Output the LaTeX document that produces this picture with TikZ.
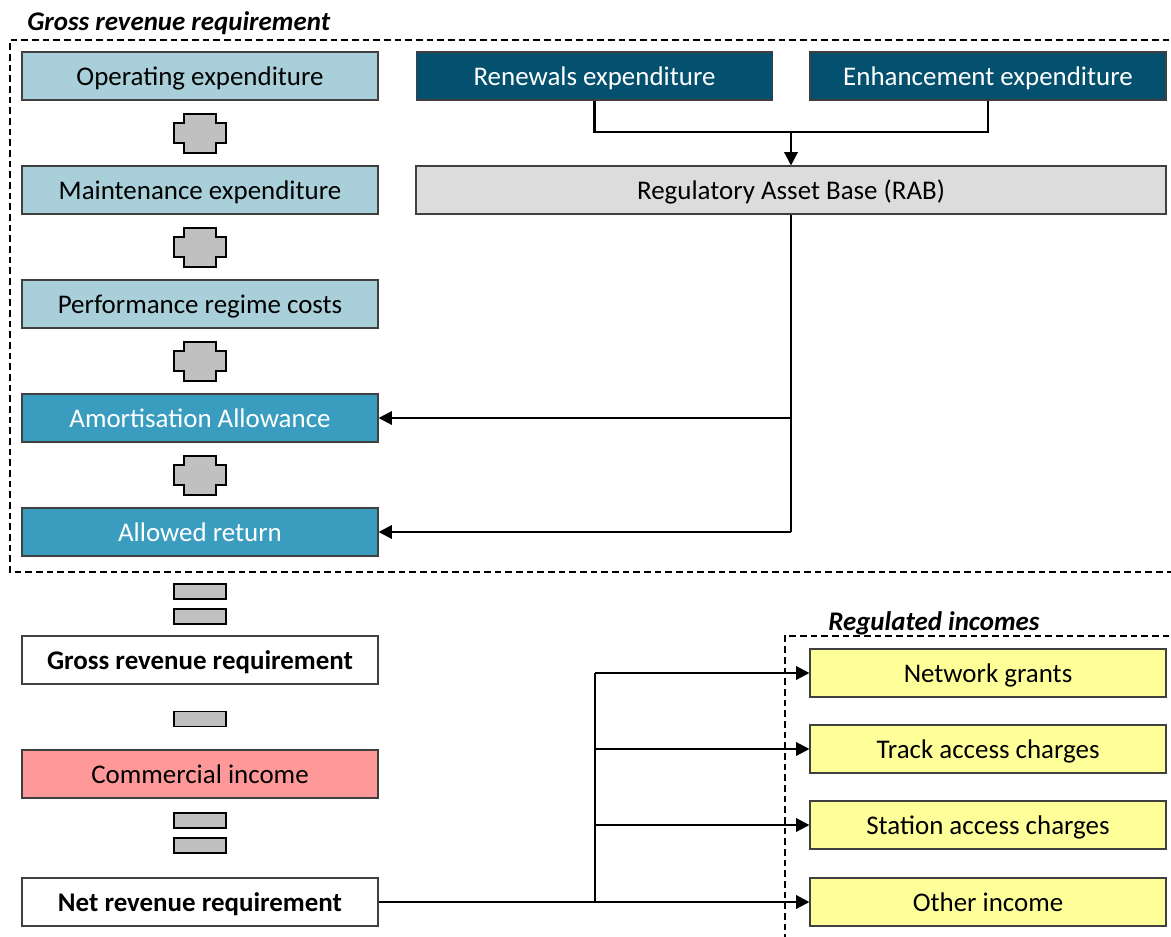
\documentclass[tikz,border=0pt]{standalone}
\usepackage{fontspec}
\setmainfont{Carlito}
\usetikzlibrary{arrows.meta}
\usetikzlibrary{calc}
\definecolor{lightteal}{HTML}{A9D0DA}
\definecolor{darkteal}{HTML}{03506F}
\definecolor{midteal}{HTML}{3A9DC0}
\definecolor{rabgrey}{HTML}{DCDCDC}
\definecolor{incomepink}{HTML}{FF9999}
\definecolor{incomeyellow}{HTML}{FFFF99}
\definecolor{signgrey}{HTML}{C0C0C0}
\tikzset{
	% Box styles: one per fill colour
	box/.style={rectangle,draw=black!75,line width=0.8pt,minimum width=267pt,minimum height=36pt,inner sep=0pt,text height=17pt,text depth=3pt,font=\fontsize{20.2}{24}\selectfont},
	cost box/.style={box,fill=lightteal},
	capex box/.style={box,fill=darkteal,text=white},
	rab box/.style={box,fill=rabgrey,minimum width=562.5pt},
	return box/.style={box,fill=midteal,text=white},
	total box/.style={box,fill=white,font=\fontsize{20.2}{24}\selectfont\bfseries},
	pink box/.style={box,fill=incomepink},
	income box/.style={box,fill=incomeyellow},
	flow/.style={line width=1.7pt,-{Triangle[length=10pt,width=10pt]}},
	link/.style={line width=1.7pt},
	sign/.style={draw=black,line width=1.4pt,fill=signgrey},
	frame/.style={line width=1.1pt,dash pattern=on 5pt off 3pt},
	frame title/.style={font=\fontsize{20.2}{24}\selectfont\bfseries\itshape,inner sep=0pt}
}
\begin{document}
\begin{tikzpicture}[x=0.75pt,y=-0.75pt]
	% macros for the operator signs between boxes
	\newcommand{\opplus}[1]{\draw[sign]($(#1)+(-16,-19.5)$) -- ++(32,0) -- ++(0,9) -- ++(10,0) -- ++(0,20) -- ++(-10,0) -- ++(0,10) -- ++(-32,0) -- ++(0,-10) -- ++(-10,0) -- ++(0,-20) -- ++(10,0) -- cycle;}
	\newcommand{\opbar}[1]{\draw[sign]($(#1)+(-26,-7.5)$) rectangle ++(52,15);}
	\useasboundingbox (0,0) rectangle (1171,936);
	
	% dashed frames with their titles
	\draw[frame] (1180,40) -- (10,40) -- (10,572) -- (1180,572);
	\node[frame title,anchor=base west] (grosstitle) at (27,30) {Gross revenue requirement};
	\draw[frame] (1180,636) -- (785,636) -- (785,945);
	\node[frame title,anchor=base west] (regtitle) at (828,630) {Regulated incomes};
	
	% left column
	\node[cost box] (opex) at (200,76) {Operating expenditure};
	\node[cost box] (maint) at (200,190) {Maintenance expenditure};
	\node[cost box] (perf) at (200,304) {Performance regime costs};
	\node[return box] (amort) at (200,418) {Amortisation Allowance};
	\node[return box] (ret) at (200,532) {Allowed return};
	\node[total box] (gross) at (200,660) {Gross revenue requirement};
	\node[pink box] (comm) at (200,774) {Commercial income};
	\node[total box] (net) at (200,902) {Net revenue requirement};
	
	% capital expenditure and RAB
	\node[capex box] (renew) at (594.5,76) {Renewals expenditure};
	\node[capex box] (enh) at (988,76) {Enhancement expenditure};
	\node[rab box] (rab) at (791,190) {Regulatory Asset Base (RAB)};
	
	% regulated incomes
	\node[income box] (grants) at (988,673) {Network grants};
	\node[income box] (track) at (988,749) {Track access charges};
	\node[income box] (station) at (988,825) {Station access charges};
	\node[income box] (other) at (988,902) {Other income};
	
	% operator signs
	\coordinate (p1) at (200,133.5);
	\coordinate (p2) at (200,247.5);
	\coordinate (p3) at (200,361.5);
	\coordinate (p4) at (200,475.5);
	\opplus{p1}
	\opplus{p2}
	\opplus{p3}
	\opplus{p4}
	\coordinate (e1) at (200,591.5);
	\coordinate (e2) at (200,616.5);
	\coordinate (m1) at (200,719);
	\coordinate (e3) at (200,820.5);
	\coordinate (e4) at (200,845.5);
	\opbar{e1}
	\opbar{e2}
	\opbar{m1}
	\opbar{e3}
	\opbar{e4}
	
	% connectors
	\coordinate (join) at (791,132);
	\draw[link] (renew.south) |- (join) -| (enh.south);
	\draw[flow] (join) -- (rab.north);
	\coordinate (rabdown) at (791,532);
	\draw[link] (rab.south) -- (rabdown);
	\draw[flow] (791,418) -- (amort.east);
	\draw[flow] (rabdown) -- (ret.east);
	\coordinate (split) at (595,902);
	\draw[link] (net.east) -- (split) -- (595,673);
	\draw[flow] (595,673) -- (grants.west);
	\draw[flow] (595,749) -- (track.west);
	\draw[flow] (595,825) -- (station.west);
	\draw[flow] (split) -- (other.west);
\end{tikzpicture}
\end{document}
